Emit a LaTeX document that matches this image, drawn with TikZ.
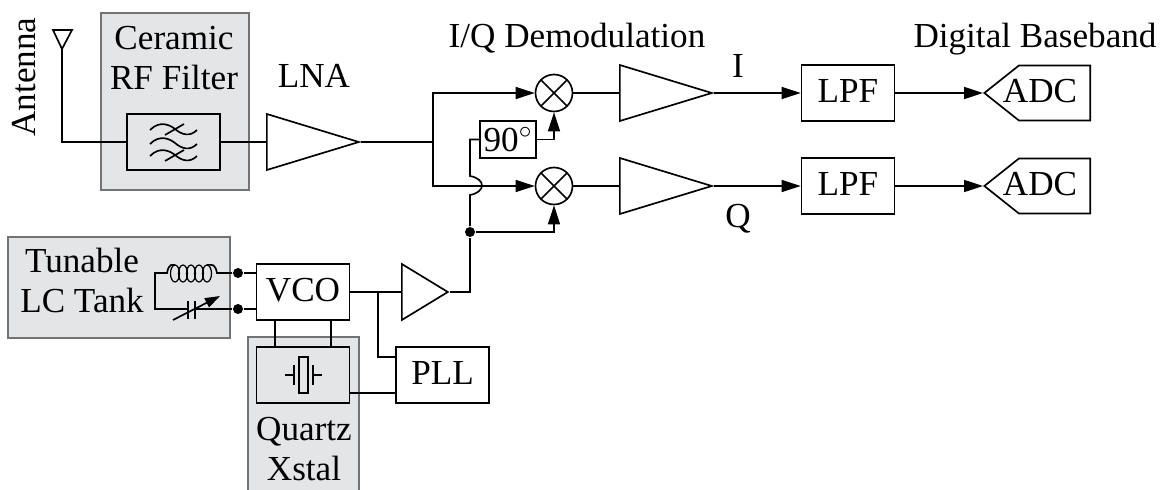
\documentclass[tikz,border=0pt]{standalone}
\usepackage{fontspec}
\setmainfont{Liberation Serif}
\usetikzlibrary{arrows.meta,shapes.geometric,shapes.symbols}
\begin{document}
\begin{tikzpicture}[x=0.02cm, y=-0.02cm, line width=0.95pt, font=\fontsize{20}{24}\selectfont,
  shade box/.style={draw=black!55, fill=shadegray, line width=0.9pt, anchor=north west, inner sep=0},
  block/.style={draw, fill=none, inner sep=0, text depth=0.08cm, minimum width=1.86cm, minimum height=1.12cm},
  amp/.style={draw, shape=isosceles triangle, isosceles triangle stretches, anchor=lower side, inner sep=0, minimum height=1.84cm, minimum width=1.12cm},
  mixer/.style={draw, circle, inner sep=0, minimum size=0.74cm, path picture={
    \draw (path picture bounding box.north west) -- (path picture bounding box.south east);
    \draw (path picture bounding box.north east) -- (path picture bounding box.south west);}},
  adc/.style={draw, shape=signal, signal to=west, signal pointer angle=77, inner sep=0, anchor=west, minimum width=2.12cm, minimum height=1.1cm},
  dot/.style={circle, fill=black, inner sep=0, minimum size=0.2cm},
  caption/.style={anchor=base, inner sep=0},
  sig/.style={-{Triangle[length=0.38cm,width=0.24cm]}}]
% Define colors
\definecolor{shadegray}{RGB}{228, 229, 231}
\useasboundingbox (0,0) rectangle (1160,490);

% Shaded groups
\node[shade box, minimum width=2.96cm, minimum height=3.54cm] (filtergroup) at (100,12) {};
\node[shade box, minimum width=4.44cm, minimum height=2.02cm] (tankgroup) at (7,236) {};
\draw[draw=black!55, fill=shadegray, line width=0.9pt] (248,490) -- (248,337) -- (359,337) -- (359,490);

% Labels
\node[rotate=90, caption] (antennalabel) at (35,77) {Antenna};
\node[caption] (ceramiclabel) at (174,50) {Ceramic};
\node[caption] (rflabel) at (174,89) {RF Filter};
\node[caption] (lnalabel) at (314,87) {LNA};
\node[caption] (iqlabel) at (577,48) {I/Q Demodulation};
\node[caption] (dbblabel) at (1035,48) {Digital Baseband};
\node[caption] (ilabel) at (738,77) {I};
\node[caption] (qlabel) at (738,227) {Q};
\node[caption] (tunablelabel) at (82,272) {Tunable};
\node[caption] (lclabel) at (82,312) {LC Tank};
\node[caption] (quartzlabel) at (304,440) {Quartz};
\node[caption] (xstallabel) at (304,480) {Xstal};

% RF path
\draw (53,30) -- (72,30) -- (62,49) -- cycle;
\coordinate (antenna) at (62,49);
\node[block] (filter) at (173.5,142) {};
\node[amp] (lna) at (266,142) {};
\draw (antenna) |- (filter.west);
\draw (filter.east) -- (lna.lower side);
\draw (150,130) .. controls (160,120) and (170,125) .. (175,129) .. controls (182,135) and (190,137) .. (197,130);
\draw (150,144) .. controls (160,134) and (170,139) .. (175,143) .. controls (182,149) and (190,151) .. (197,144);
\draw (150,156) .. controls (160,146) and (170,151) .. (175,155) .. controls (182,161) and (190,163) .. (197,156);
\draw (165,135) -- (184,124);
\draw (165,161) -- (184,150);

% I/Q branches
\node[mixer] (mixi) at (554,93) {};
\node[mixer] (mixq) at (554,186) {};
\node[draw, inner sep=0, minimum width=1.12cm, minimum height=0.74cm] (phase) at (508,139.5) {90$^\circ$};
\coordinate (split) at (433,142);
\draw (lna.apex) -- (split);
\draw[sig] (split) |- (mixi.west);
\draw[sig] (split) |- (mixq.west);
\draw[sig] (phase.east) -| (mixi.south);

\node[amp] (ampi) at (619,93) {};
\node[amp] (ampq) at (619,186) {};
\node[block] (lpfi) at (848,93) {LPF};
\node[block] (lpfq) at (848,186) {LPF};
\node[adc] (adci) at (983,93) {};
\node[adc] (adcq) at (983,186) {};
\node[caption] (adcilabel) at (1040,102) {ADC};
\node[caption] (adcqlabel) at (1040,195) {ADC};
\draw (mixi.east) -- (ampi.lower side);
\draw (mixq.east) -- (ampq.lower side);
\draw[sig] (ampi.apex) -- (lpfi.west);
\draw[sig] (ampq.apex) -- (lpfq.west);
\draw[sig] (lpfi.east) -- (adci.west);
\draw[sig] (lpfq.east) -- (adcq.west);

% Oscillator
\node[block] (vco) at (303,292) {VCO};
\node[draw, fill=shadegray, inner sep=0, minimum width=1.86cm, minimum height=1.12cm, line width=1.1pt] (xtal) at (303,375) {};
\node[block] (pll) at (442.5,375) {PLL};
\node[amp, minimum height=0.92cm] (buf) at (401,292) {};
\node[dot] (lodot) at (470,232) {};
\coordinate (hopin) at (470,176);
\coordinate (hopout) at (470,195);
\coordinate (branch) at (378,292);
\draw (vco.east) -- (buf.lower side);
\draw (branch) |- (pll.west |- 0,357);
\draw (xtal.east |- 0,393) -- (pll.west |- 0,393);
\draw (vco.south -| 275,0) -- (xtal.north -| 275,0);
\draw (vco.south -| 331,0) -- (xtal.north -| 331,0);
\draw (buf.apex) -| (lodot);
\draw (lodot) -- (hopout) .. controls (486,192) and (486,179) .. (hopin) |- (phase.west);
\draw[sig] (lodot) -| (mixq.south);

% Crystal symbol
\draw[line width=0.7pt] (299,357) rectangle (308,393);
\draw[line width=0.7pt] (285,375) -- (294,375);
\draw[line width=0.7pt] (294,365) -- (294,385);
\draw[line width=0.7pt] (313,365) -- (313,385);
\draw[line width=0.7pt] (313,375) -- (322,375);

% LC tank
\node[dot] (tanktop) at (238,273) {};
\node[dot] (tankbot) at (238,309) {};
\draw (tanktop) -- (vco.west |- tanktop);
\draw (tankbot) -- (vco.west |- tankbot);
\draw (tanktop) -- (217,273) .. controls (215,263) and (212,265) .. (207,265);
\foreach \cx in {175,183,191,199,207}
  \draw[line width=0.7pt] (\cx,273.5) ellipse [x radius=4.5, y radius=8.5];
\draw (175,265) .. controls (172,265) and (169,263) .. (167,273) -- (155,273) -- (155,309) -- (188,309);
\draw (195,309) -- (tankbot);
\draw (188,301) -- (188,319);
\draw (195,301) -- (195,319);
\draw[-{Triangle[length=0.3cm,width=0.2cm]}] (173,320) -- (220,296);

\end{tikzpicture}
\end{document}
